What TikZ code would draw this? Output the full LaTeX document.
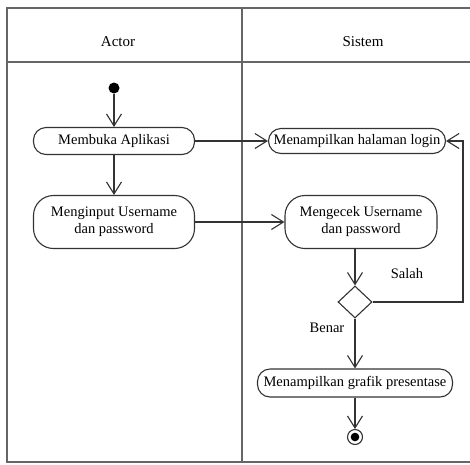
\documentclass[tikz,border=0pt]{standalone}
\usepackage{fontspec}
\setmainfont{Liberation Serif}
\usetikzlibrary{arrows.meta,shapes.geometric}
\begin{document}
\begin{tikzpicture}[x=1pt,y=-1pt,
  lane/.style={draw=black!60,line width=1.8pt},
  act/.style={draw=black!80,line width=1.1pt,rounded corners=12.5pt,
    inner sep=0pt,align=center,font=\fontsize{14.5}{17}\selectfont},
  bigact/.style={act,rounded corners=20pt},
  flow/.style={draw=black!80,line width=1.1pt,
    -{Straight Barb[length=12pt,width=15pt,line width=1.1pt]}},
  lbl/.style={font=\fontsize{14.5}{17}\selectfont,inner sep=0pt},
  head/.style={font=\fontsize{15}{18}\selectfont,inner sep=0pt}]
\useasboundingbox (0,0) rectangle (470,464);
\clip (0,0) rectangle (470,464);
\fill[white] (0,0) rectangle (470,464);

% swimlane frame
\draw[lane] (7,8) rectangle (495,462);
\draw[lane] (242,8) -- (242,462);
\draw[lane] (7,62) -- (495,62);
\node[head] (hActor) at (118,42) {Actor};
\node[head] (hSistem) at (363,42) {Sistem};

% actions
\node[circle,fill=black,inner sep=0pt,minimum size=11pt] (start) at (114,88) {};
\node[act,minimum width=161pt,minimum height=27pt] (open) at (114,141) {Membuka Aplikasi};
\node[bigact,minimum width=161pt,minimum height=53pt] (input) at (114,222) {Menginput Username\\dan password};
\node[act,minimum width=177pt,minimum height=25pt] (login) at (357,141) {Menampilkan halaman login};
\node[bigact,minimum width=152pt,minimum height=53pt] (check) at (361,222) {Mengecek Username\\dan password};
\node[diamond,draw=black!80,line width=1.1pt,minimum width=34pt,minimum height=32pt,inner sep=0pt] (dec) at (355,302) {};
\node[act,minimum width=195pt,minimum height=28pt] (graph) at (355,383) {Menampilkan grafik presentase};
\node[circle,draw=black!80,line width=1.1pt,inner sep=0pt,minimum size=15pt] (end) at (355,437) {};
\fill[black] (end.center) circle (4.3pt);
\coordinate (ret) at (463,302);

% flows
\draw[flow] (start) -- (open);
\draw[flow] (open) -- (input);
\draw[flow] (open) -- (login);
\draw[flow] (input) -- (check);
\draw[flow] (check.south -| dec.north) -- (dec.north);
\draw[flow] (dec.east) -- (ret) |- (login.east);
\draw[flow] (dec.south) -- (graph.north);
\draw[flow] (graph) -- (end);

% guards
\node[lbl] (salah) at (407,274) {Salah};
\node[lbl] (benar) at (327,328) {Benar};
\end{tikzpicture}
\end{document}
